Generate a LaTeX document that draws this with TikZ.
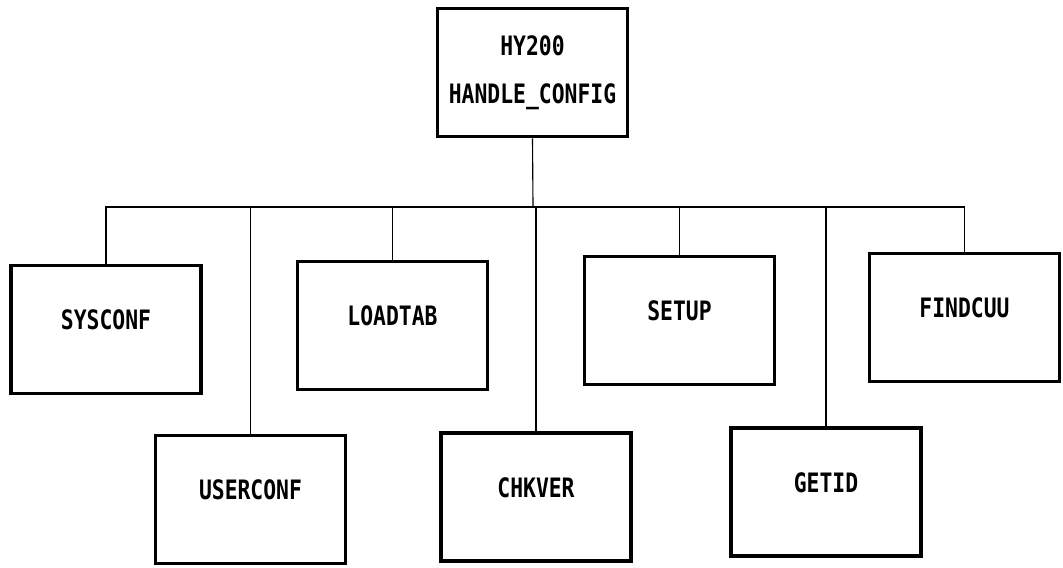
\documentclass[tikz,border=0pt]{standalone}
\usepackage{fontspec}
\setmonofont[FakeStretch=0.8]{DejaVu Sans Mono}
\begin{document}
\begin{tikzpicture}[x=0.025cm, y=-0.025cm,
  modbox/.style={draw, line width=2.6pt, minimum width=4.75cm, minimum height=3.2cm,
    font=\ttfamily\bfseries\fontsize{19}{34}\selectfont, align=center},
  callee/.style={modbox, text height=0.5cm, text depth=0.5cm},
  link/.style={line width=0.8pt}]

\useasboundingbox (0,0) rectangle (1063,567);

% ---------- caller ----------
\node[modbox] (hy) at (532.5,72.5) {HY200\\HANDLE\_CONFIG};
\coordinate (bus) at (533,207);

% ---------- upper row ----------
\node[callee] (sysconf) at (106,329.5) {SYSCONF};
\node[callee] (loadtab) at (392.5,325.5) {LOADTAB};
\node[callee] (setup)   at (679.5,320.5) {SETUP};
\node[callee] (findcuu) at (964.5,317.5) {FINDCUU};

% ---------- lower row ----------
\node[callee] (userconf) at (250.5,499.5) {USERCONF};
\node[callee] (chkver)   at (536,497) {CHKVER};
\node[callee] (getid)    at (826,492) {GETID};

% ---------- links ----------
\draw[link] (hy.south) -- (bus);
\draw[link] (sysconf.north) |- (bus) -| (findcuu.north);
\draw[link] (loadtab.north) -- (loadtab.north |- bus);
\draw[link] (setup.north) -- (setup.north |- bus);
\draw[link] (userconf.north) -- (userconf.north |- bus);
\draw[link] (chkver.north) -- (chkver.north |- bus);
\draw[link] (getid.north) -- (getid.north |- bus);

\end{tikzpicture}
\end{document}
